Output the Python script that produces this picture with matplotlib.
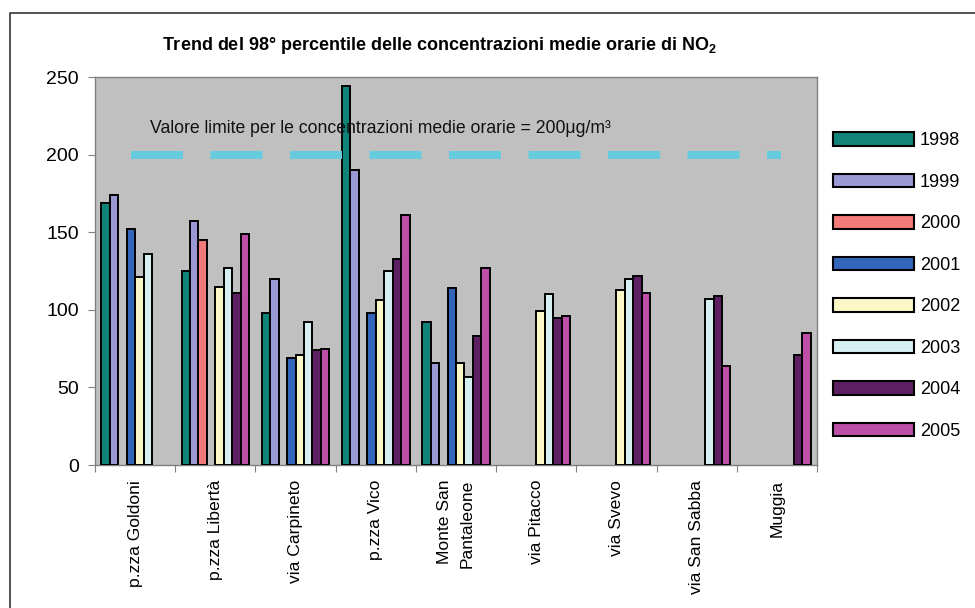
import numpy as np
import matplotlib
matplotlib.use("Agg")
import matplotlib.pyplot as plt
from matplotlib.lines import Line2D

stations = ["p.zza Goldoni", "p.zza Libertà", "via Carpineto", "p.zza Vico",
            "Monte San\nPantaleone", "via Pitacco", "via Svevo", "via San Sabba", "Muggia"]
years = ["1998", "1999", "2000", "2001", "2002", "2003", "2004", "2005"]
nan = np.nan
v1998 = [169, 125, 98, 244, 92, nan, nan, nan, nan]
v1999 = [174, 157, 120, 190, 66, nan, nan, nan, nan]
v2000 = [nan, 145, nan, nan, nan, nan, nan, nan, nan]
v2001 = [152, nan, 69, 98, 114, nan, nan, nan, nan]
v2002 = [121, 115, 71, 106, 66, 99, 113, nan, nan]
v2003 = [136, 127, 92, 125, 57, 110, 120, 107, nan]
v2004 = [nan, 111, 74, 133, 83, 95, 122, 109, 71]
v2005 = [nan, 149, 75, 161, 127, 96, 111, 64, 85]
limit_value = 200
y_ticks = [0, 50, 100, 150, 200, 250]

series = [v1998, v1999, v2000, v2001, v2002, v2003, v2004, v2005]
colors = ["#11847A", "#9B99D4", "#F27A78", "#3366BB",
          "#FBF7C6", "#D6EFF3", "#5E1F63", "#BE4FA8"]

FONT = ["Liberation Sans", "DejaVu Sans"]
plt.rcParams["font.family"] = FONT
plt.rcParams["lines.scale_dashes"] = False

W, H = 975, 608
fig = plt.figure(figsize=(W / 100, H / 100), dpi=100)
ax = fig.add_axes([95 / W, 1 - 465 / H, (817 - 95) / W, (465 - 77) / H])
ax.set_facecolor("#C0C0C0")

n = len(stations)
x = np.arange(n)
bw = 1 / 9.5
handles = []
for j, (vals, col, yr) in enumerate(zip(series, colors, years)):
    vals = np.array(vals, dtype=float)
    m = ~np.isnan(vals)
    ax.bar(x[m] + (j - 3.5) * bw, vals[m], width=bw, color=col,
           edgecolor="black", linewidth=1.4, zorder=3)
    handles.append(plt.Rectangle((0, 0), 1, 1, facecolor=col,
                                 edgecolor="black", linewidth=1.5))

# limit value line
ax.plot([0, n - 1], [limit_value, limit_value], color="#66CCDD",
        linewidth=8 * 0.72, solid_capstyle="projecting",
        dash_capstyle="projecting",
        linestyle=(0, (44 * 0.72, 35.5 * 0.72)), zorder=4)
ax.text(0.19, 217, "Valore limite per le concentrazioni medie orarie = 200μg/m³",
        fontsize=12.7, color="#111111", va="center", ha="left", zorder=5)

ax.set_xlim(-0.5, n - 0.5)
ax.set_ylim(0, 250)
ax.set_yticks(y_ticks)
ax.set_yticklabels([str(t) for t in y_ticks], fontsize=14)
ax.tick_params(axis="y", direction="out", length=5, width=0.8,
               color="#808080", pad=6.5)

ax.set_xticks(x)
ax.set_xticklabels(stations, rotation=90, fontsize=12.6, va="top", ha="center",
                   multialignment="right")
for t in ax.get_xticklabels():
    t.set_linespacing(1.65)
ax.tick_params(axis="x", which="major", length=0, pad=10.8)
ax.set_xticks(np.arange(n + 1) - 0.5, minor=True)
ax.tick_params(axis="x", which="minor", direction="out", length=5, width=0.8,
               color="#808080")
for s in ax.spines.values():
    s.set_color("#808080")
    s.set_linewidth(1.0)

ax.legend(handles, years, loc="upper left", frameon=False,
          bbox_to_anchor=(833 / W, 1 - 132 / H),
          bbox_transform=fig.transFigure, fontsize=13,
          handlelength=4.5, handleheight=0.78, handletextpad=0.3,
          labelspacing=1.355, borderpad=0, borderaxespad=0)

fig.text(440 / W, 1 - 45 / H,
         r"Trend del 98° percentile delle concentrazioni medie orarie di NO$_\mathregular{2}$",
         fontsize=13, fontweight="bold", ha="center", va="center")

# outer frame (top and left edges)
fig.add_artist(Line2D([9.5 / W, 9.5 / W, 1.0], [0.0, 1 - 12.5 / H, 1 - 12.5 / H],
                      transform=fig.transFigure, color="#333333", linewidth=1.2))

fig.savefig("out.png", dpi=100)
